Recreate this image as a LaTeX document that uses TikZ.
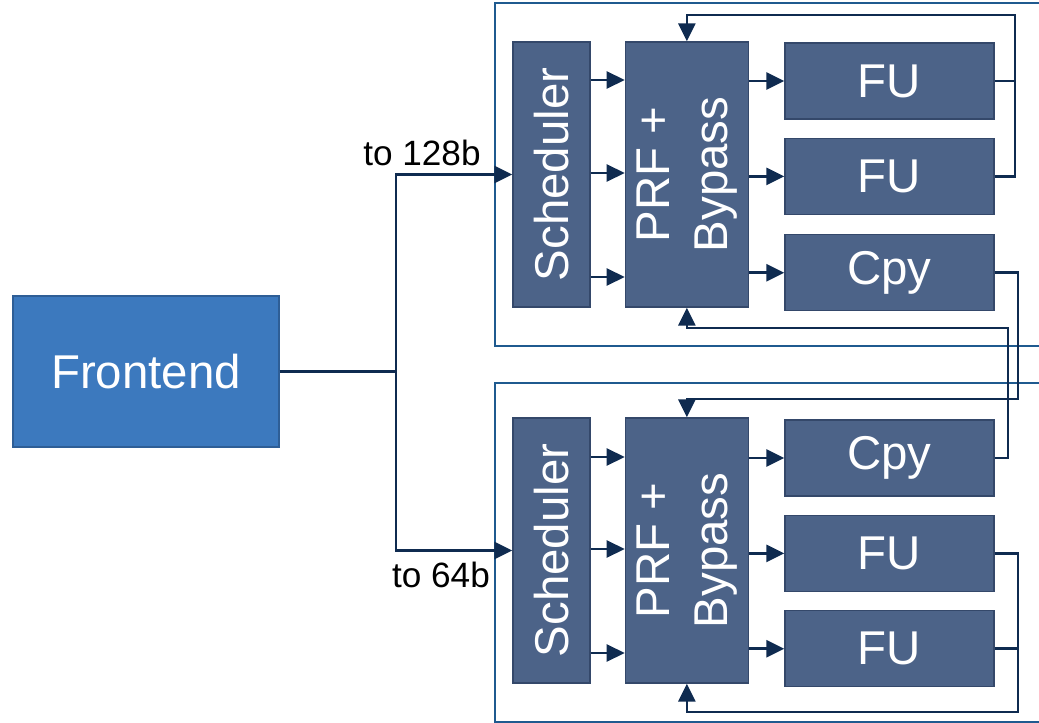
\documentclass[tikz,border=0pt]{standalone}
\usepackage{fontspec}
\setmainfont{Liberation Sans}
\usetikzlibrary{arrows.meta,positioning}
\definecolor{unitfill}{HTML}{4C6388}
\definecolor{unitline}{HTML}{34486A}
\definecolor{wirecol}{HTML}{0F2B50}
\definecolor{frontfill}{HTML}{3C79BE}
\definecolor{frontline}{HTML}{2E5E96}
\definecolor{clustercol}{HTML}{1F5A8F}

\begin{document}
\begin{tikzpicture}[x=0.02cm, y=-0.02cm,
    block/.style={draw=unitline, line width=0.8pt, fill=unitfill, text=white, inner sep=0pt, font=\fontsize{27}{33}\selectfont},
    sched/.style={block, minimum width=1.54cm, minimum height=5.3cm},
    prf/.style={block, minimum width=2.46cm, minimum height=5.3cm},
    fu/.style={block, minimum width=4.18cm, minimum height=1.52cm},
    front/.style={draw=frontline, line width=0.8pt, fill=frontfill, text=white, minimum width=5.32cm, minimum height=3.02cm, font=\fontsize{27}{33}\selectfont},
    cluster/.style={draw=clustercol, line width=1.1pt},
    bus/.style={draw=wirecol, line width=1.5pt},
    link/.style={bus, -{Triangle[length=0.36cm, width=0.34cm]}},
    lbl/.style={inner sep=0pt, font=\fontsize{20}{24}\selectfont}
]
    \useasboundingbox (0,0) rectangle (1039,723);

    \draw[cluster] (1039,3) -- (495,3) -- (495,346) -- (1039,346);
    \draw[cluster] (1039,383) -- (495,383) -- (495,722) -- (1039,722);

    \node[front] (frontend) at (146,371.5) {Frontend};

    % 128b cluster
    \node[sched] (sched1) at (551.5,174.5) {\rotatebox{90}{Scheduler}};
    \node[prf, right=0.68cm of sched1] (prf1) {\rotatebox{90}{\begin{tabular}{@{}c@{}}PRF +\\Bypass\end{tabular}}};
    \node[fu] (fu1a) at (889.5,81) {FU};
    \node[fu, below=0.36cm of fu1a] (fu1b) {FU};
    \node[fu, below=0.38cm of fu1b] (cpy1) {Cpy};

    % 64b cluster
    \node[sched] (sched2) at (551.5,550.5) {\rotatebox{90}{Scheduler}};
    \node[prf, right=0.68cm of sched2] (prf2) {\rotatebox{90}{\begin{tabular}{@{}c@{}}PRF +\\Bypass\end{tabular}}};
    \node[fu] (cpy2) at (889.5,458) {Cpy};
    \node[fu, below=0.36cm of cpy2] (fu2a) {FU};
    \node[fu, below=0.36cm of fu2a] (fu2b) {FU};

    \coordinate (split) at (396,371.5);
    \coordinate (fbtop) at (1015,15);
    \coordinate (fbbot) at (1018,712);
    \coordinate (xa) at (1018,399);
    \coordinate (xb) at (1008,328);

    \draw[link] (frontend.east) -- (split) |- (sched1.west);
    \draw[link] (split) |- (sched2.west);
    \node[lbl] (lbl128) at (422,153) {to 128b};
    \node[lbl] (lbl64) at (441,575) {to 64b};

    \foreach \y in {80,173,277} {
        \draw[link] (sched1.east |- 0,\y) -- (prf1.west |- 0,\y);
    }
    \foreach \y in {457,549,653} {
        \draw[link] (sched2.east |- 0,\y) -- (prf2.west |- 0,\y);
    }
    \foreach \u in {fu1a,fu1b,cpy1} {
        \draw[link] (prf1.east |- \u.west) -- (\u.west);
    }
    \foreach \u in {cpy2,fu2a,fu2b} {
        \draw[link] (prf2.east |- \u.west) -- (\u.west);
    }

    \draw[link] (fu1a.east) -| (fbtop) -| (prf1.north);
    \draw[bus] (fu1b.east) -| (fbtop);
    \draw[link] (fu2a.east) -| (fbbot) -| (prf2.south);
    \draw[bus] (fu2b.east) -| (fbbot);
    \draw[link] (cpy1.east) -| (xa) -| (prf2.north);
    \draw[link] (cpy2.east) -| (xb) -| (prf1.south);
\end{tikzpicture}
\end{document}
